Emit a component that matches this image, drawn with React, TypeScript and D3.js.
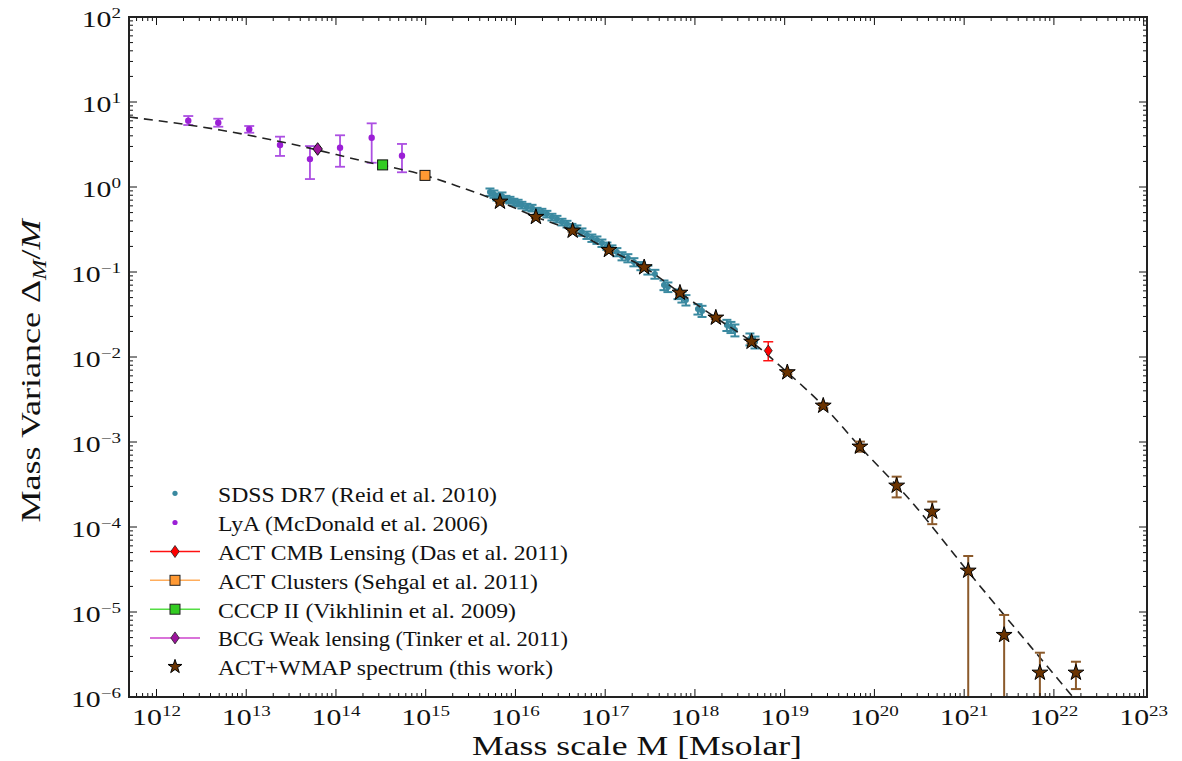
import React from 'react';
import * as d3 from 'd3';

// ---------- data ----------
const sdssM = [5.20e15, 5.76e15, 6.22e15, 7.08e15, 7.84e15, 8.69e15, 9.62e15, 1.07e16, 1.18e16, 1.34e16, 1.53e16, 1.74e16, 1.97e16, 2.24e16, 2.55e16, 2.90e16, 3.30e16, 3.75e16, 4.26e16, 4.84e16, 5.51e16, 6.26e16, 7.11e16, 8.09e16, 9.20e16, 1.045e17, 1.19e17, 1.35e17, 1.54e17, 1.79e17, 2.09e17, 2.50e17, 2.99e17, 3.58e17, 4.52e17, 5.00e17, 6.47e17, 7.16e17, 7.94e17, 1.08e18, 1.20e18, 2.27e18, 2.52e18, 2.79e18, 4.10e18, 4.67e18];
const sdssV = [0.873, 0.827, 0.762, 0.784, 0.722, 0.703, 0.667, 0.649, 0.614, 0.582, 0.566, 0.522, 0.508, 0.481, 0.444, 0.420, 0.388, 0.367, 0.338, 0.321, 0.296, 0.272, 0.251, 0.238, 0.219, 0.202, 0.187, 0.172, 0.154, 0.146, 0.131, 0.118, 0.106, 0.0947, 0.0703, 0.0667, 0.0551, 0.0508, 0.0469, 0.0367, 0.0348, 0.0238, 0.0225, 0.0208, 0.0163, 0.0150];
const sdssErr = [0.10, 0.10, 0.09, 0.10, 0.09, 0.09, 0.09, 0.09, 0.09, 0.09, 0.09, 0.09, 0.09, 0.09, 0.09, 0.09, 0.09, 0.09, 0.09, 0.10, 0.10, 0.10, 0.10, 0.10, 0.10, 0.10, 0.10, 0.11, 0.11, 0.11, 0.11, 0.11, 0.12, 0.12, 0.13, 0.13, 0.13, 0.14, 0.14, 0.14, 0.15, 0.15, 0.15, 0.16, 0.16, 0.16];

const lyaM = [2.26e12, 4.88e12, 1.08e13, 2.38e13, 5.13e13, 1.11e14, 2.50e14, 5.44e14];
const lyaV = [6.03, 5.71, 4.78, 3.12, 2.13, 2.90, 3.80, 2.33];
const lyaHi = [6.84, 6.36, 5.22, 3.91, 3.03, 4.06, 5.61, 3.21];
const lyaLo = [5.36, 5.12, 4.35, 2.32, 1.24, 1.73, 1.93, 1.49];

const cmbM = [6.56e18];
const cmbV = [0.01186];
const cmbHi = [0.0151];
const cmbLo = [0.00904];

const clusterM = [9.82e14];
const clusterV = [1.37];
const cccpM = [3.31e14];
const cccpV = [1.82];
const bcgM = [6.25e13];
const bcgV = [2.80];

const starM = [6.72e15, 1.69e16, 4.34e16, 1.10e17, 2.72e17, 6.81e17, 1.71e18, 4.28e18, 1.07e19, 2.69e19, 6.89e19, 1.77e20, 4.41e20, 1.11e21, 2.79e21, 6.98e21, 1.76e22];
const starV = [0.671, 0.444, 0.306, 0.1815, 0.1135, 0.057, 0.029, 0.0151, 0.0066, 0.00267, 8.81e-4, 3.06e-4, 1.51e-4, 3.06e-5, 5.36e-6, 1.93e-6, 1.93e-6];
const starHi = [0.69, 0.456, 0.315, 0.187, 0.117, 0.059, 0.030, 0.0157, 0.0069, 0.00285, 1.01e-3, 3.91e-4, 1.99e-4, 4.56e-5, 9.23e-6, 3.32e-6, 2.6e-6];
const starLo = [0.652, 0.432, 0.297, 0.176, 0.110, 0.055, 0.028, 0.0145, 0.0063, 0.0025, 7.69e-4, 2.23e-4, 1.08e-4, 1e-9, 1e-9, 1e-9, 1.24e-6];

const curveM = [4.94e11, 5.11e12, 2.84e13, 2.21e14, 9.82e14, 2.41e15, 6.72e15, 1.69e16, 4.34e16, 1.10e17, 2.72e17, 6.81e17, 1.71e18, 4.28e18, 1.07e19, 2.69e19, 6.89e19, 2.49e20, 1.07e21, 1.40e22, 2.0e22];
const curveV = [6.66, 4.69, 3.29, 1.97, 1.37, 1.0, 0.671, 0.444, 0.306, 0.1815, 0.1135, 0.057, 0.029, 0.0151, 0.0066, 0.00267, 8.81e-4, 2.08e-4, 3.12e-5, 1.21e-6, 7.7e-7];

const xTickExps = [12, 13, 14, 15, 16, 17, 18, 19, 20, 21, 22, 23];
const yTickExps = [-6, -5, -4, -3, -2, -1, 0, 1, 2];

const legendLabels = [
  'SDSS DR7 (Reid et al. 2010)',
  'LyA (McDonald et al. 2006)',
  'ACT CMB Lensing (Das et al. 2011)',
  'ACT Clusters (Sehgal et al. 2011)',
  'CCCP II (Vikhlinin et al. 2009)',
  'BCG Weak lensing (Tinker et al. 2011)',
  'ACT+WMAP spectrum (this work)',
];

// ---------- layout ----------
const W = 1182, H = 761;
const L = 129, R = 1147, T = 17, B = 697;
const FONT = 'Liberation Serif';

const x = d3.scaleLog().domain([4.94e11, 1.09e23]).range([L, R]);
const y = d3.scaleLog().domain([1e-6, 1e2]).range([B, T]);

const TEAL = '#3a89a0';
const PURPLE = '#9b1fd6';
const PURPLE_ERR = '#ac4fe2';
const STAR_FILL = '#6b3300';
const STAR_ERR = '#8b5a2b';

const starPath = d3.symbol().type(d3.symbolStar).size(78)() as string;
const diamond = (w: number, h: number) => `M0,${-h}L${w},0L0,${h}L${-w},0Z`;
const sup = (e: number) => (e < 0 ? '\u2212' + Math.abs(e) : String(e));

function ErrBar({ cx, hi, lo, cap, color, width }: any) {
  const y1 = y(hi), y2 = y(lo);
  return (
    <g stroke={color} strokeWidth={width} fill="none">
      <line x1={cx} x2={cx} y1={y1} y2={y2} />
      <line x1={cx - cap} x2={cx + cap} y1={y1} y2={y1} />
      <line x1={cx - cap} x2={cx + cap} y1={y2} y2={y2} />
    </g>
  );
}

export default function App() {
  const curveLine = d3
    .line<number>()
    .x((_, i) => x(curveM[i]))
    .y((v) => y(v))
    .curve(d3.curveMonotoneX)(curveV) as string;

  const xMinor: number[] = [];
  for (let e = 11; e <= 23; e++) for (let k = 2; k <= 9; k++) {
    const v = k * Math.pow(10, e);
    if (v > 4.94e11 && v < 1.09e23) xMinor.push(v);
  }
  const yMinor: number[] = [];
  for (let e = -6; e <= 1; e++) for (let k = 2; k <= 9; k++) yMinor.push(k * Math.pow(10, e));

  const MAJ = 8, MIN = 4;
  const rowY = [493.3, 522.5, 551.5, 580.3, 609.2, 637.9, 666.7];
  const legW = [279, 270, 350, 320, 298, 350, 335];

  return (
    <svg width={W} height={H} style={{ position: 'absolute', left: 0, top: 0, background: '#fff', fontFamily: FONT }}>
      <defs>
        <clipPath id="plot">
          <rect x={L} y={T} width={R - L} height={B - T} />
        </clipPath>
      </defs>
      <rect x={0} y={0} width={W} height={H} fill="#fff" />

      <g clipPath="url(#plot)">
        {/* SDSS */}
        {sdssM.map((m, i) => (
          <g key={'s' + i}>
            <ErrBar cx={x(m)} hi={sdssV[i] * (1 + sdssErr[i])} lo={sdssV[i] * (1 - sdssErr[i])} cap={4.5} color={TEAL} width={2} />
            <circle cx={x(m)} cy={y(sdssV[i])} r={3} fill={TEAL} />
          </g>
        ))}
        {/* LyA */}
        {lyaM.map((m, i) => (
          <g key={'l' + i}>
            <ErrBar cx={x(m)} hi={lyaHi[i]} lo={lyaLo[i]} cap={5} color={PURPLE_ERR} width={1.8} />
            <circle cx={x(m)} cy={y(lyaV[i])} r={3.2} fill={PURPLE} />
          </g>
        ))}
        {/* theory curve */}
        <path d={curveLine} fill="none" stroke="#222" strokeWidth={1.6} strokeDasharray="9,6" />
        {/* BCG */}
        {bcgM.map((m, i) => (
          <path key={'b' + i} d={diamond(4.7, 6.3)} transform={`translate(${x(m)},${y(bcgV[i])})`} fill="#9c149c" stroke="#111" strokeWidth={1} />
        ))}
        {/* CCCP */}
        {cccpM.map((m, i) => (
          <rect key={'c' + i} x={x(m) - 5} y={y(cccpV[i]) - 5} width={10} height={10} fill="#33cc22" stroke="#111" strokeWidth={1} />
        ))}
        {/* ACT clusters */}
        {clusterM.map((m, i) => (
          <rect key={'o' + i} x={x(m) - 5} y={y(clusterV[i]) - 5} width={10} height={10} fill="#ff9933" stroke="#111" strokeWidth={1} />
        ))}
        {/* CMB lensing */}
        {cmbM.map((m, i) => (
          <g key={'r' + i}>
            <ErrBar cx={x(m)} hi={cmbHi[i]} lo={cmbLo[i]} cap={5} color="#ff1010" width={1.5} />
            <path d={diamond(4, 5.6)} transform={`translate(${x(m)},${y(cmbV[i])})`} fill="#ff0000" stroke="#222" strokeWidth={0.8} />
          </g>
        ))}
        {/* ACT+WMAP stars */}
        {starM.map((m, i) => (
          <g key={'st' + i}>
            <ErrBar cx={x(m)} hi={starHi[i]} lo={starLo[i]} cap={5} color={STAR_ERR} width={2} />
          </g>
        ))}
        {starM.map((m, i) => (
          <path key={'sp' + i} d={starPath} transform={`translate(${x(m)},${y(starV[i])})`} fill={STAR_FILL} stroke="#000" strokeWidth={1} />
        ))}
      </g>

      {/* ticks */}
      <g stroke="#111" strokeWidth={1}>
        {xTickExps.map((e) => {
          const px = x(Math.pow(10, e));
          return (
            <g key={'xt' + e}>
              <line x1={px} x2={px} y1={B} y2={B - MAJ} />
              <line x1={px} x2={px} y1={T} y2={T + MAJ} />
            </g>
          );
        })}
        {xMinor.map((v, i) => {
          const px = x(v);
          return (
            <g key={'xm' + i}>
              <line x1={px} x2={px} y1={B} y2={B - MIN} />
              <line x1={px} x2={px} y1={T} y2={T + MIN} />
            </g>
          );
        })}
        {yTickExps.map((e) => {
          const py = y(Math.pow(10, e));
          return (
            <g key={'yt' + e}>
              <line x1={L} x2={L + MAJ} y1={py} y2={py} />
              <line x1={R} x2={R - MAJ} y1={py} y2={py} />
            </g>
          );
        })}
        {yMinor.map((v, i) => {
          const py = y(v);
          return (
            <g key={'ym' + i}>
              <line x1={L} x2={L + MIN} y1={py} y2={py} />
              <line x1={R} x2={R - MIN} y1={py} y2={py} />
            </g>
          );
        })}
      </g>

      {/* frame */}
      <rect x={L} y={T} width={R - L} height={B - T} fill="none" stroke="#222" strokeWidth={2} />

      {/* tick labels */}
      <g fill="#111">
        {xTickExps.map((e) => (
          <text key={'xl' + e} transform={`translate(${x(Math.pow(10, e))},725) scale(1.27,1)`} textAnchor="middle" fontSize={23.5} style={{ fontFamily: FONT }}>
            10<tspan fontSize={15} dy={-9.5}>{sup(e)}</tspan>
          </text>
        ))}
        {yTickExps.map((e) => (
          <text key={'yl' + e} transform={`translate(121,${y(Math.pow(10, e)) + 10}) scale(1.27,1)`} textAnchor="end" fontSize={23.5} style={{ fontFamily: FONT }}>
            10<tspan fontSize={15} dy={-9.5}>{sup(e)}</tspan>
          </text>
        ))}
      </g>

      {/* axis labels */}
      <text x={637} y={755} textAnchor="middle" fontSize={28} textLength={330} lengthAdjust="spacingAndGlyphs" fill="#111" style={{ fontFamily: FONT }}>
        Mass scale M [Msolar]
      </text>
      <text transform="translate(40,371) rotate(-90)" textAnchor="middle" fontSize={28} textLength={303} lengthAdjust="spacingAndGlyphs" fill="#111" style={{ fontFamily: FONT }}>
        Mass Variance Δ<tspan fontStyle="italic" fontSize={19} dy={6}>M</tspan><tspan dy={-6}>/</tspan><tspan fontStyle="italic">M</tspan>
      </text>

      {/* legend */}
      <g>
        <circle cx={175} cy={rowY[0]} r={2.6} fill={TEAL} />
        <circle cx={175} cy={rowY[1]} r={2.6} fill={PURPLE} />
        <line x1={150} x2={200} y1={rowY[2]} y2={rowY[2]} stroke="#ff1010" strokeWidth={1.5} />
        <path d={diamond(4.2, 6)} transform={`translate(175,${rowY[2]})`} fill="#ff0000" stroke="#222" strokeWidth={0.8} />
        <line x1={150} x2={200} y1={rowY[3]} y2={rowY[3]} stroke="#ffad5c" strokeWidth={1.5} />
        <rect x={170} y={rowY[3] - 5} width={10} height={10} fill="#ff9933" stroke="#222" strokeWidth={1} />
        <line x1={150} x2={200} y1={rowY[4]} y2={rowY[4]} stroke="#55dd44" strokeWidth={1.5} />
        <rect x={170} y={rowY[4] - 5} width={10} height={10} fill="#33cc22" stroke="#222" strokeWidth={1} />
        <line x1={150} x2={200} y1={rowY[5]} y2={rowY[5]} stroke="#cc44cc" strokeWidth={1.5} />
        <path d={diamond(4.2, 6)} transform={`translate(175,${rowY[5]})`} fill="#9c149c" stroke="#222" strokeWidth={0.8} />
        <path d={d3.symbol().type(d3.symbolStar).size(60)() as string} transform={`translate(175,${rowY[6]})`} fill={STAR_FILL} stroke="#000" strokeWidth={1} />
        {legendLabels.map((t, i) => (
          <text key={'lg' + i} x={218} y={rowY[i] + 8.4} fontSize={21} textLength={legW[i]} lengthAdjust="spacingAndGlyphs" fill="#111" style={{ fontFamily: FONT }}>
            {t}
          </text>
        ))}
      </g>
    </svg>
  );
}
